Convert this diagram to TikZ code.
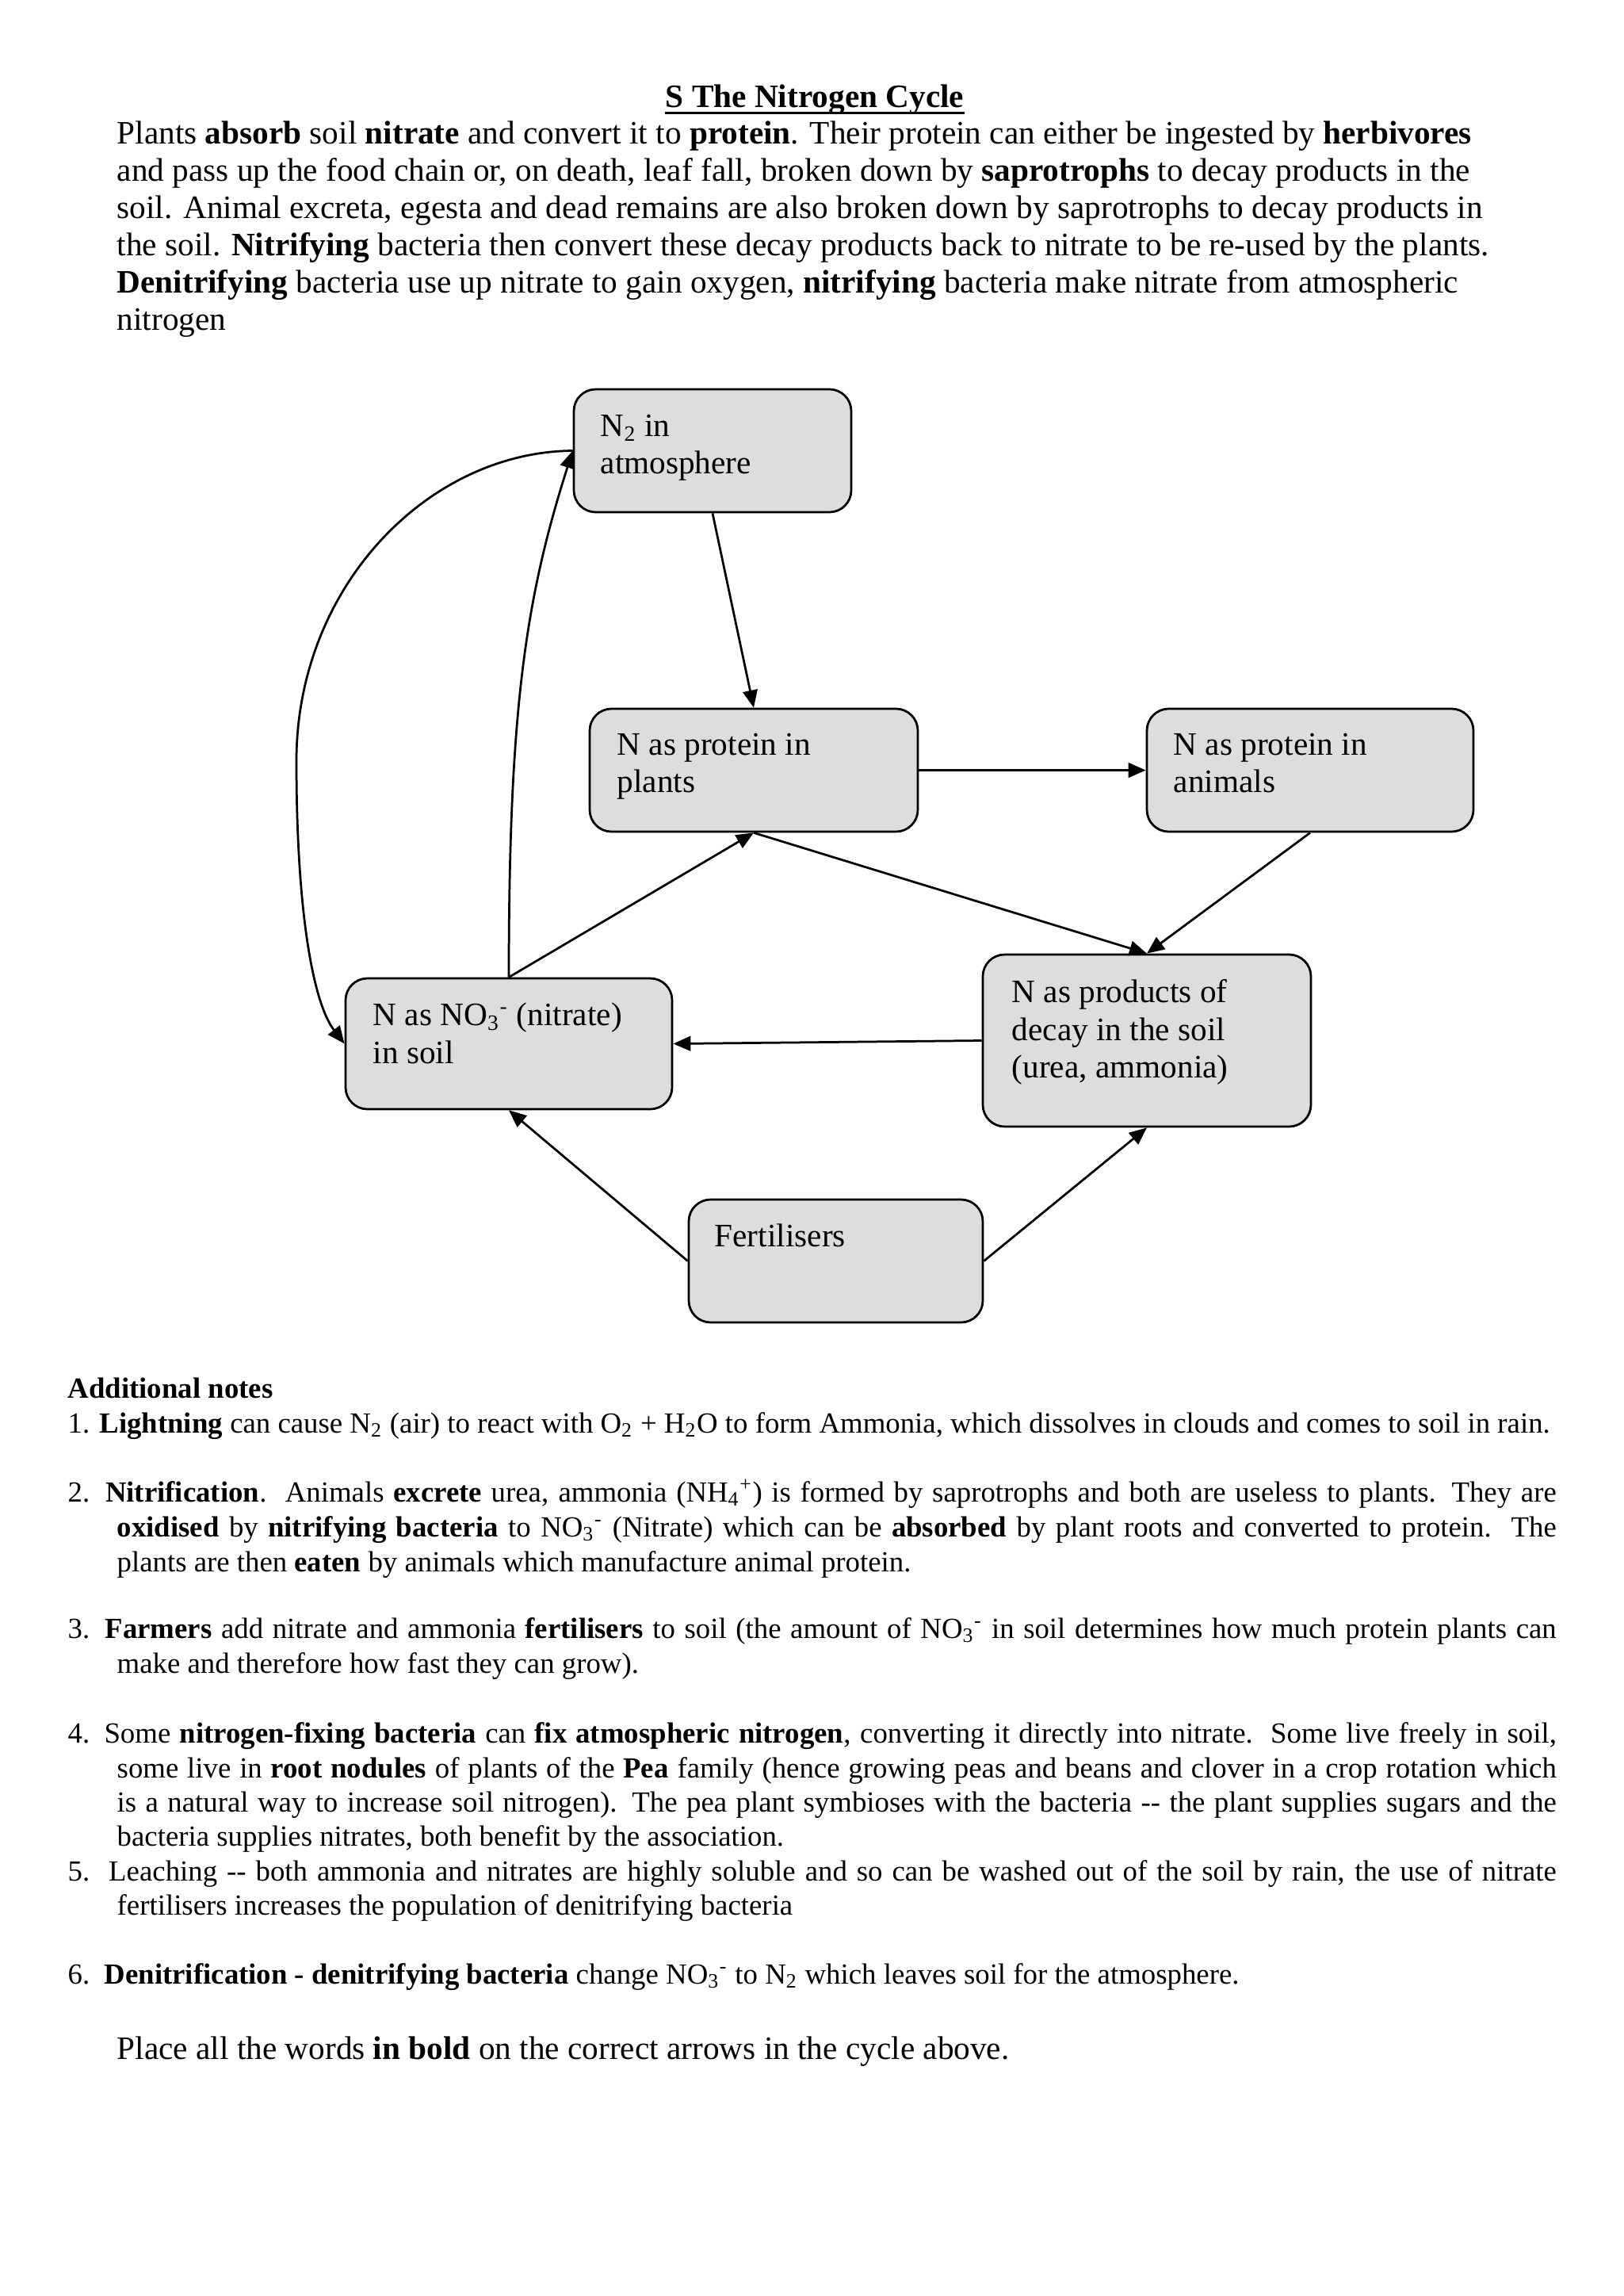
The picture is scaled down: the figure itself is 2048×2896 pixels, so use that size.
\documentclass[tikz,border=0pt]{standalone}
\usepackage{fontspec}
\setmainfont{Liberation Serif}
\usetikzlibrary{arrows.meta,fit}
\definecolor{boxgray}{RGB}{221,221,221}
\tikzset{
  cbox/.style={draw=black, line width=0.8pt, fill=boxgray, rounded corners=8pt, inner sep=0pt},
  btxt/.style={anchor=base west, inner sep=0pt, font=\fontsize{12}{14}\selectfont},
  para/.style={anchor=base west, inner sep=0pt, font=\fontsize{12}{14}\selectfont},
  note/.style={anchor=base west, inner sep=0pt, font=\fontsize{10.7}{13}\selectfont},
  arr/.style={line width=0.8pt, -{Triangle[length=6.4pt,width=5.4pt]}},
}
\newcommand{\sub}[1]{\textsubscript{#1}}
\newcommand{\sups}[1]{\textsuperscript{#1}}
\begin{document}
\begin{tikzpicture}[x=0.29067pt, y=-0.29067pt]
\useasboundingbox (0,0) rectangle (2048,2896);
% title
\node[anchor=base, inner sep=0pt, font=\fontsize{12}{14}\selectfont\bfseries] (title) at (1028,135) {S The Nitrogen Cycle};
\draw[line width=0.8pt] ([yshift=-2.1pt]title.base west) -- ([yshift=-2.1pt]title.base east);
% intro paragraph
\node[para] (p1) at (147,181) {Plants \textbf{absorb} soil \textbf{nitrate} and convert it to \textbf{protein}. Their protein can either be ingested by \textbf{herbivores}};
\node[para] (p2) at (147,228) {and pass up the food chain or, on death, leaf fall, broken down by \textbf{saprotrophs} to decay products in the};
\node[para] (p3) at (147,275) {soil. Animal excreta, egesta and dead remains are also broken down by saprotrophs to decay products in};
\node[para] (p4) at (147,322) {the soil. \textbf{Nitrifying} bacteria then convert these decay products back to nitrate to be re-used by the plants.};
\node[para] (p5) at (147,369) {\textbf{Denitrifying} bacteria use up nitrate to gain oxygen, \textbf{nitrifying} bacteria make nitrate from atmospheric};
\node[para] (p6) at (147,416) {nitrogen};
% boxes
\node[cbox, fit={(724,491) (1074,646)}] (n2) {};
\node[cbox, fit={(744,894) (1158,1049)}] (plants) {};
\node[cbox, fit={(1447,894) (1859,1049)}] (animals) {};
\node[cbox, fit={(1240,1204) (1654,1421)}] (decay) {};
\node[cbox, fit={(436,1234) (848,1399)}] (nitrate) {};
\node[cbox, fit={(869,1513) (1240,1668)}] (fert) {};
% box texts
\node[btxt] (n2a) at (757,550) {N\sub{2} in};
\node[btxt] (n2b) at (757,597) {atmosphere};
\node[btxt] (pla) at (778,952) {N as protein in};
\node[btxt] (plb) at (778,999) {plants};
\node[btxt] (ana) at (1480,952) {N as protein in};
\node[btxt] (anb) at (1480,999) {animals};
\node[btxt] (dea) at (1276,1264) {N as products of};
\node[btxt] (deb) at (1276,1312) {decay in the soil};
\node[btxt] (dec) at (1276,1359) {(urea, ammonia)};
\node[btxt] (nia) at (470,1293) {N as NO\sub{3}\sups{-} (nitrate)};
\node[btxt] (nib) at (470,1341) {in soil};
\node[btxt] (fea) at (901,1572) {Fertilisers};
% connectors
\draw[arr] (n2.south) -- (plants.north);
\draw[arr] (plants.east) -- (animals.west);
\draw[arr] (animals.south) -- (decay.north);
\draw[arr] (plants.south) -- (decay.north);
\draw[arr] (nitrate.north) -- (plants.south);
\draw[arr] (nitrate.north) .. controls (642,900) and (662,758) .. (n2.west);
\draw[arr] (n2.west) .. controls (540,570) and (374,740) .. (374,960) .. controls (374,1150) and (395,1265) .. (nitrate.west);
\draw[arr] (decay.west) -- (nitrate.east);
\draw[arr] (fert.west) -- (nitrate.south);
\draw[arr] (fert.east) -- (decay.south);
% notes
\node[note] (addn) at (85,1763) {\textbf{Additional notes}};
\node[note] (n1) at (85,1807) {1. \textbf{Lightning} can cause N\sub{2} (air) to react with O\sub{2} + H\sub{2}O to form Ammonia, which dissolves in clouds and comes to soil in rain.};
\node[note] (n2l1) at (85,1894) {\makebox[545.9pt][s]{2. \textbf{Nitrification}.\ \ Animals \textbf{excrete} urea, ammonia (NH\sub{4}\sups{+}) is formed by saprotrophs and both are useless to plants. They are}};
\node[note] (n2l2) at (147,1938) {\makebox[527.9pt][s]{\textbf{oxidised} by \textbf{nitrifying bacteria} to NO\sub{3}\sups{-} (Nitrate) which can be \textbf{absorbed} by plant roots and converted to protein.\ \ The}};
\node[note] (n2l3) at (147,1982) {plants are then \textbf{eaten} by animals which manufacture animal protein.};
\node[note] (n3l1) at (85,2066) {\makebox[545.9pt][s]{3. \textbf{Farmers} add nitrate and ammonia \textbf{fertilisers} to soil (the amount of NO\sub{3}\sups{-} in soil determines how much protein plants can}};
\node[note] (n3l2) at (147,2110) {make and therefore how fast they can grow).};
\node[note] (n4l1) at (85,2198) {\makebox[545.9pt][s]{4. Some \textbf{nitrogen-fixing bacteria} can \textbf{fix atmospheric nitrogen}, converting it directly into nitrate.\ \ Some live freely in soil,}};
\node[note] (n4l2) at (147,2242) {\makebox[527.9pt][s]{some live in \textbf{root nodules} of plants of the \textbf{Pea} family (hence growing peas and beans and clover in a crop rotation which}};
\node[note] (n4l3) at (147,2285) {\makebox[527.9pt][s]{is a natural way to increase soil nitrogen). The pea plant symbioses with the bacteria -{}- the plant supplies sugars and the}};
\node[note] (n4l4) at (147,2328) {bacteria supplies nitrates, both benefit by the association.};
\node[note] (n5l1) at (85,2372) {\makebox[545.9pt][s]{5.\ \ Leaching -{}- both ammonia and nitrates are highly soluble and so can be washed out of the soil by rain, the use of nitrate}};
\node[note] (n5l2) at (147,2415) {fertilisers increases the population of denitrifying bacteria};
\node[note] (n6) at (85,2502) {6.\ \ \textbf{Denitrification - denitrifying bacteria} change NO\sub{3}\sups{-} to N\sub{2} which leaves soil for the atmosphere.};
\node[para] (place) at (147,2597) {Place all the words \textbf{in bold} on the correct arrows in the cycle above.};
\end{tikzpicture}
\end{document}
